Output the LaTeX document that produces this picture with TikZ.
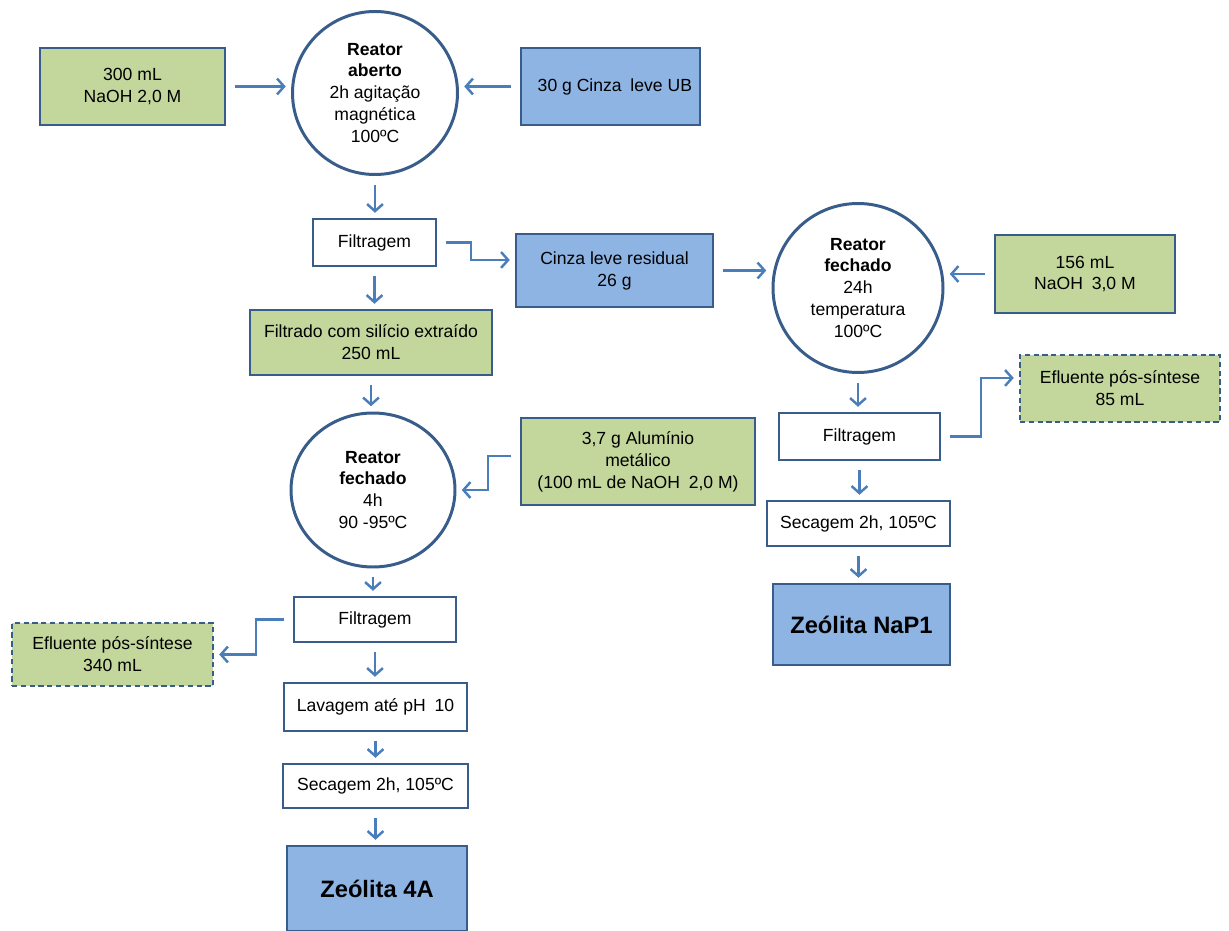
\documentclass[tikz,border=0pt]{standalone}
\usepackage{fontspec}
\setmainfont{Liberation Sans}
\usetikzlibrary{arrows.meta,positioning,calc,shapes.geometric}
\definecolor{boxgreen}{HTML}{C3D69B}
\definecolor{boxblue}{HTML}{8EB4E3}
\definecolor{edgeblue}{HTML}{385D8A}
\definecolor{flowblue}{HTML}{4A7EBB}
\tikzset{
  base/.style={draw=edgeblue, line width=1.1pt, align=center, inner sep=2pt,
    font=\fontsize{10}{12.5}\selectfont},
  greenbox/.style={base, fill=boxgreen},
  bluebox/.style={base, fill=boxblue},
  whitebox/.style={base, fill=white},
  outbox/.style={greenbox, dash pattern=on 3pt off 2pt},
  prodbox/.style={bluebox, font=\fontsize{13.5}{16}\selectfont\bfseries},
  reactor/.style={base, ellipse, line width=1.7pt, inner sep=0pt},
  flow/.style={draw=flowblue, line width=1.4pt, -{Straight Barb[length=4pt,width=9pt]},
    shorten <=5pt, shorten >=3pt},
}
\begin{document}
\begin{tikzpicture}
\useasboundingbox (0,0) rectangle (24.58,-18.62);

% left column
\node[greenbox, minimum width=3.7cm, minimum height=1.54cm] (naoh1) at (2.65,-1.73) {300 mL\\NaOH 2,0 M};
\node[reactor, minimum width=3.3cm, minimum height=3.26cm] (reat1) at (7.5,-1.86)
  {\textbf{Reator}\\\textbf{aberto}\\2h agitação\\magnética\\100ºC};
\node[bluebox, minimum width=3.58cm, minimum height=1.54cm] (cinza) at (12.21,-1.73) {\enspace30 g Cinza\enspace leve UB};
\node[whitebox, minimum width=2.46cm, minimum height=0.94cm] (filt1) at (7.49,-4.85) {Filtragem};
\node[bluebox, minimum width=3.94cm, minimum height=1.46cm] (resid) at (12.29,-5.41) {Cinza leve residual\\26 g};
\node[greenbox, minimum width=4.84cm, minimum height=1.3cm] (filtrado) at (7.42,-6.85) {Filtrado com silício extraído\\250 mL};
\node[reactor, minimum width=3.28cm, minimum height=3.08cm] (reat3) at (7.46,-9.8)
  {\textbf{Reator}\\\textbf{fechado}\\4h\\90 -95ºC};
\node[greenbox, minimum width=4.68cm, minimum height=1.74cm] (alum) at (12.76,-9.23) {3,7 g Alumínio\\metálico\\(100 mL de NaOH\enspace 2,0 M)};
\node[whitebox, minimum width=3.24cm, minimum height=0.9cm] (filt3) at (7.5,-12.39) {Filtragem};
\node[outbox, minimum width=4.02cm, minimum height=1.26cm] (eflu1) at (2.25,-13.09) {Efluente pós-síntese\\340 mL};
\node[whitebox, minimum width=3.66cm, minimum height=0.96cm] (lav) at (7.51,-14.14) {Lavagem até pH\enspace 10};
\node[whitebox, minimum width=3.7cm, minimum height=0.88cm] (sec1) at (7.51,-15.72) {Secagem 2h, 105ºC};
\node[prodbox, minimum width=3.6cm, minimum height=1.7cm] (zeo4a) at (7.54,-17.77) {Zeólita 4A};

% right column
\node[reactor, minimum width=3.4cm, minimum height=3.38cm] (reat2) at (17.16,-5.76)
  {\textbf{Reator}\\\textbf{fechado}\\24h\\temperatura\\100ºC};
\node[greenbox, minimum width=3.6cm, minimum height=1.56cm] (naoh2) at (21.7,-5.48) {156 mL\\NaOH\enspace 3,0 M};
\node[whitebox, minimum width=3.22cm, minimum height=0.94cm] (filt2) at (17.19,-8.73) {Filtragem};
\node[outbox, minimum width=4.0cm, minimum height=1.34cm] (eflu2) at (22.4,-7.77) {Efluente pós-síntese\\85 mL};
\node[whitebox, minimum width=3.66cm, minimum height=0.9cm] (sec2) at (17.17,-10.47) {Secagem 2h, 105ºC};
\node[prodbox, minimum width=3.54cm, minimum height=1.62cm] (zeonap) at (17.23,-12.49) {Zeólita NaP1};

% connectors
\draw[flow] (naoh1.east) -- (naoh1.east -| reat1.west);
\draw[flow] (cinza.west) -- (cinza.west -| reat1.east);
\draw[flow] (reat1.south) -- (reat1.south |- filt1.north);
\draw[flow] (filt1.east) -- ++(0.68,0) |- ([yshift=6pt]resid.west);
\draw[flow] (resid.east) -- (resid.east -| reat2.west);
\draw[flow] (naoh2.west) -- (naoh2.west -| reat2.east);
\draw[flow] (filt1.south) -- (filt1.south |- filtrado.north);
\draw[flow] (filtrado.south) -- (filtrado.south |- reat3.north);
\draw[flow] ([yshift=3pt]alum.west) -- ++(-0.64,0) |- (reat3.east);
\draw[flow] (reat3.south) -- (reat3.south |- filt3.north);
\draw[flow] (filt3.west) -- ++(-0.74,0) |- (eflu1.east);
\draw[flow] (filt3.south) -- (filt3.south |- lav.north);
\draw[flow] (lav.south) -- (lav.south |- sec1.north);
\draw[flow] (sec1.south) -- (sec1.south |- zeo4a.north);
\draw[flow] (reat2.south) -- (reat2.south |- filt2.north);
\draw[flow] (filt2.east) -- ++(0.8,0) |- ([yshift=6pt]eflu2.west);
\draw[flow] (filt2.south) -- (filt2.south |- sec2.north);
\draw[flow] (sec2.south) -- (sec2.south |- zeonap.north);
\end{tikzpicture}
\end{document}
